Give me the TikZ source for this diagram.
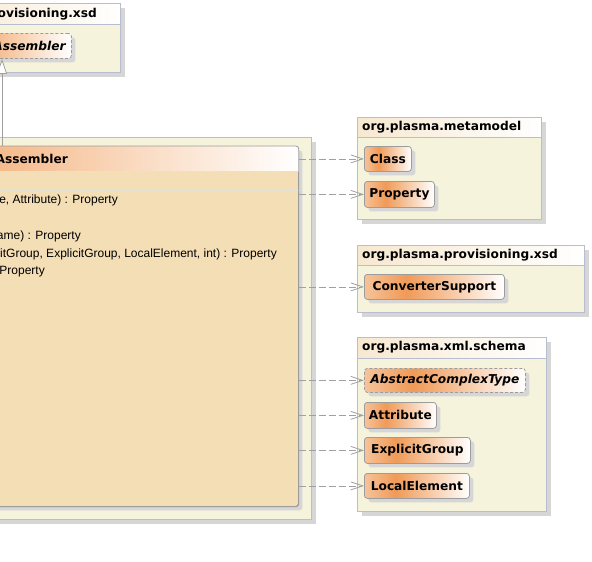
\documentclass[tikz,border=0pt]{standalone}
\usepackage{fontspec}
\setmainfont{Liberation Sans}
\newfontfamily\dvs{DejaVu Sans}
\usetikzlibrary{arrows.meta,shadows}
\definecolor{pkgfill}{HTML}{F5F3DC}
\definecolor{pkgline}{HTML}{B8BECF}
\definecolor{tabL}{HTML}{F7E8D0}
\definecolor{clsfill}{HTML}{F4DEB5}
\definecolor{clsline}{HTML}{9C9C9C}
\definecolor{sepline}{HTML}{E6E1D6}
\definecolor{shd}{HTML}{D6D6D6}
\definecolor{orgL}{HTML}{F6C39A}
\definecolor{orgP}{HTML}{F09A57}
\definecolor{hdrL}{HTML}{F2A466}
\definecolor{depline}{HTML}{A0A0A0}
\pgfdeclarehorizontalshading{clsshade}{100bp}{color(0bp)=(orgL); color(25bp)=(orgL); color(40bp)=(orgP); color(75bp)=(white); color(100bp)=(white)}
\tikzset{
  pkg/.style={draw=pkgline, fill=pkgfill, line width=0.8pt, anchor=north west, inner sep=0pt,
    drop shadow={shadow xshift=5pt, shadow yshift=-5pt, fill=shd, opacity=1}},
  pkgtitle/.style={font=\dvs\bfseries\fontsize{12.2}{14}\selectfont, inner sep=0pt, text=black},
  clsbox/.style={draw=clsline, line width=0.8pt, shading=clsshade, rounded corners=3pt, anchor=north west,
    inner sep=0pt, font=\dvs\bfseries\fontsize{12.2}{14}\selectfont,
    drop shadow={shadow xshift=4pt, shadow yshift=-4pt, fill=shd, opacity=1}},
  optext/.style={font=\fontsize{12}{14}\selectfont, inner sep=0pt, anchor=east},
  dep/.style={draw=depline, line width=0.8pt, dash pattern=on 7pt off 3pt, -{Straight Barb[length=12pt,width=8pt]}},
  genl/.style={draw=depline, line width=0.8pt, -{Triangle[open,fill=white,length=15pt,width=10pt]}}
}
\begin{document}
\begin{tikzpicture}[x=1pt,y=-1pt]
\useasboundingbox (0,0) rectangle (592,562);
\fill[white] (0,0) rectangle (592,562);
\clip (0,0) rectangle (592,562);

% ---------- top-left package ----------
\node[pkg, minimum width=180pt, minimum height=69pt] (pTop) at (-60,3) {};
\shade[left color=tabL, right color=white] (pTop.north west) rectangle ([yshift=-21pt]pTop.north east);
\draw[pkgline, line width=0.8pt] (pTop.north west) rectangle (pTop.south east);
\draw[pkgline, line width=0.8pt] ([yshift=-21pt]pTop.north west) -- ([yshift=-21pt]pTop.north east);
\node[pkgtitle, anchor=east] (tTop) at (97,14) {ovisioning.xsd};

\node[clsbox, dashed, dash pattern=on 3pt off 2pt, shading=axis, left color=hdrL, right color=white,
      minimum width=101pt, minimum height=25pt] (absA) at (-30,33) {};
\node[font=\dvs\bfseries\itshape\fontsize{12.2}{14}\selectfont, inner sep=0pt, anchor=east] (absT) at ([xshift=-6pt]absA.east) {Assembler};

% ---------- big package ----------
\node[pkg, minimum width=371pt, minimum height=382pt] (pBig) at (-60,137) {};

\node[draw=clsline, line width=0.8pt, fill=clsfill, rounded corners=3pt, anchor=north west, inner sep=0pt,
      minimum width=398pt, minimum height=360pt,
      drop shadow={shadow xshift=4pt, shadow yshift=-4pt, fill=shd, opacity=1}] (asm) at (-100,146) {};
\begin{scope}
  \clip[rounded corners=3pt] (asm.north west) rectangle (asm.south east);
  \shade[left color=hdrL, right color=white] (asm.north west) rectangle ([yshift=-25pt]asm.north east);
\end{scope}
\draw[sepline, line width=1pt] ([yshift=-25pt]asm.north west) -- ([yshift=-25pt]asm.north east);
\draw[sepline, line width=1pt] ([yshift=-44pt]asm.north west) -- ([yshift=-44pt]asm.north east);
\draw[clsline, line width=0.8pt, rounded corners=3pt] (asm.north west) rectangle (asm.south east);
\node[pkgtitle, anchor=east] (asmT) at (68,158.5) {Assembler};

\node[optext] (op1) at (118,200) {pe, Attribute) : Property};
\node[optext] (op3) at (81,236) {ame) : Property};
\node[optext] (op4) at (277,254) {itGroup, ExplicitGroup, LocalElement, int) : Property};
\node[optext] (op5) at (45,272) {Property};

% generalization
\coordinate (gx) at (2,0);
\draw[genl] (asm.north west -| gx) -- (absA.south west -| gx);

% ---------- org.plasma.metamodel ----------
\node[pkg, minimum width=184pt, minimum height=102pt] (pMeta) at (357,117) {};
\shade[left color=tabL, right color=white] (pMeta.north west) rectangle ([yshift=-20pt]pMeta.north east);
\draw[pkgline, line width=0.8pt] (pMeta.north west) rectangle (pMeta.south east);
\draw[pkgline, line width=0.8pt] ([yshift=-20pt]pMeta.north west) -- ([yshift=-20pt]pMeta.north east);
\node[pkgtitle, anchor=west] (tMeta) at ([xshift=5pt,yshift=-10pt]pMeta.north west) {org.plasma.metamodel};
\node[clsbox, minimum width=47pt, minimum height=25pt] (cClass) at (364,146) {Class};
\node[clsbox, minimum width=70pt, minimum height=26pt] (cProp) at (364,181) {Property};

% ---------- org.plasma.provisioning.xsd ----------
\node[pkg, minimum width=227pt, minimum height=67pt] (pProv) at (357,245) {};
\shade[left color=tabL, right color=white] (pProv.north west) rectangle ([yshift=-20pt]pProv.north east);
\draw[pkgline, line width=0.8pt] (pProv.north west) rectangle (pProv.south east);
\draw[pkgline, line width=0.8pt] ([yshift=-20pt]pProv.north west) -- ([yshift=-20pt]pProv.north east);
\node[pkgtitle, anchor=west] (tProv) at ([xshift=5pt,yshift=-10pt]pProv.north west) {org.plasma.provisioning.xsd};
\node[clsbox, minimum width=140pt, minimum height=25pt] (cConv) at (364,274) {ConverterSupport};

% ---------- org.plasma.xml.schema ----------
\node[pkg, minimum width=189pt, minimum height=174pt] (pSch) at (357,337) {};
\shade[left color=tabL, right color=white] (pSch.north west) rectangle ([yshift=-21pt]pSch.north east);
\draw[pkgline, line width=0.8pt] (pSch.north west) rectangle (pSch.south east);
\draw[pkgline, line width=0.8pt] ([yshift=-21pt]pSch.north west) -- ([yshift=-21pt]pSch.north east);
\node[pkgtitle, anchor=west] (tSch) at ([xshift=5pt,yshift=-10.5pt]pSch.north west) {org.plasma.xml.schema};
\node[clsbox, dashed, dash pattern=on 3pt off 2pt, font=\dvs\bfseries\itshape\fontsize{12.2}{14}\selectfont,
      minimum width=161pt, minimum height=24pt] (cAbs) at (364,368) {AbstractComplexType};
\node[clsbox, minimum width=72pt, minimum height=26pt] (cAttr) at (364,402) {Attribute};
\node[clsbox, minimum width=106pt, minimum height=26pt] (cExpl) at (364,437) {ExplicitGroup};
\node[clsbox, minimum width=105pt, minimum height=25pt] (cLoc) at (364,473) {LocalElement};

% ---------- dependencies ----------
\draw[dep] (asm.east |- cClass.west) -- (cClass.west);
\draw[dep] (asm.east |- cProp.west) -- (cProp.west);
\draw[dep] (asm.east |- cConv.west) -- (cConv.west);
\draw[dep] (asm.east |- cAbs.west) -- (cAbs.west);
\draw[dep] (asm.east |- cAttr.west) -- (cAttr.west);
\draw[dep] (asm.east |- cExpl.west) -- (cExpl.west);
\draw[dep] (asm.east |- cLoc.west) -- (cLoc.west);
\end{tikzpicture}
\end{document}
